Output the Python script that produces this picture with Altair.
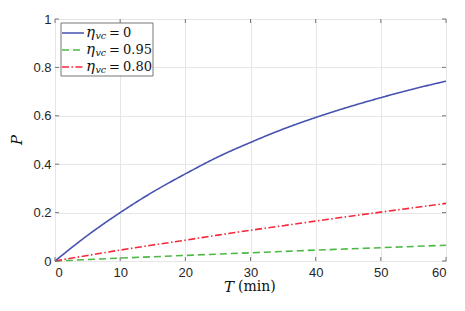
import altair as alt
import pandas as pd

T = [0, 5, 10, 15, 20, 25, 30, 35, 40, 45, 50, 55, 60]
P_eta0 = [0, 0.106, 0.200, 0.285, 0.360, 0.430, 0.490, 0.545, 0.593, 0.636, 0.675, 0.711, 0.743]
P_eta095 = [0, 0.006, 0.012, 0.0175, 0.023, 0.0285, 0.034, 0.0395, 0.045, 0.050, 0.055, 0.060, 0.065]
P_eta080 = [0, 0.023, 0.045, 0.066, 0.086, 0.107, 0.127, 0.146, 0.165, 0.184, 0.202, 0.220, 0.238]

series_names = ["eta0", "eta095", "eta080"]
series_colors = ["#4652b0", "#4cb944", "#f5283a"]
series_dash = [[1, 0], [7, 4], [7, 2.5, 1.5, 2.5]]
legend_values = ["0", "0.95", "0.80"]

x_ticks = [0, 10, 20, 30, 40, 50, 60]
y_ticks = [0, 0.2, 0.4, 0.6, 0.8, 1]

W, H = 391, 242
SERIF = "DejaVu Serif"
SANS = "Liberation Sans"

rows = []
for name, vals in zip(series_names, [P_eta0, P_eta095, P_eta080]):
    for t, p in zip(T, vals):
        rows.append({"T": t, "P": p, "series": name})
df = pd.DataFrame(rows)

xscale = alt.Scale(domain=[0, 60], nice=False)
yscale = alt.Scale(domain=[0, 1], nice=False)

lines = alt.Chart(df).mark_line(strokeWidth=1.6, interpolate="monotone").encode(
    x=alt.X("T:Q", scale=xscale,
            axis=alt.Axis(values=x_ticks, title=None, ticks=False, domain=False,
                          grid=True, gridColor="#e6e6e6", labelFont=SANS,
                          labelFontSize=13, labelColor="#262626", labelPadding=5)),
    y=alt.Y("P:Q", scale=yscale,
            axis=alt.Axis(values=y_ticks, format="~g", title=None, ticks=False, domain=False,
                          grid=True, gridColor="#e6e6e6", labelFont=SANS,
                          labelFontSize=13, labelColor="#262626", labelPadding=4)),
    color=alt.Color("series:N", scale=alt.Scale(domain=series_names, range=series_colors), legend=None),
    strokeDash=alt.StrokeDash("series:N", scale=alt.Scale(domain=series_names, range=series_dash), legend=None),
    detail="series:N",
)

xt = pd.DataFrame({"v": x_ticks})
yt = pd.DataFrame({"v": y_ticks})
tick_color = "#777777"
xb = alt.Chart(xt).mark_rule(color=tick_color).encode(
    x=alt.X("v:Q", scale=xscale), y=alt.value(H), y2=alt.value(H - 4))
xtop = alt.Chart(xt).mark_rule(color=tick_color).encode(
    x=alt.X("v:Q", scale=xscale), y=alt.value(0), y2=alt.value(4))
yl = alt.Chart(yt).mark_rule(color=tick_color).encode(
    y=alt.Y("v:Q", scale=yscale), x=alt.value(0), x2=alt.value(4))
yr = alt.Chart(yt).mark_rule(color=tick_color).encode(
    y=alt.Y("v:Q", scale=yscale), x=alt.value(W), x2=alt.value(W - 4))

one = pd.DataFrame({"a": [0]})
layers = [lines, xb, xtop, yl, yr]

# Legend box
layers.append(alt.Chart(one).mark_rect(fill="white", stroke="#777777", strokeWidth=1).encode(
    x=alt.value(6), x2=alt.value(98), y=alt.value(4), y2=alt.value(57)))
row_y = [14, 31, 48]
for i in range(3):
    yy = row_y[i]
    layers.append(alt.Chart(one).mark_rule(color=series_colors[i], strokeWidth=1.6,
                                           strokeDash=series_dash[i]).encode(
        x=alt.value(7), x2=alt.value(29), y=alt.value(yy)))
    layers.append(alt.Chart(one).mark_text(font=SERIF, fontStyle="italic", fontSize=15,
                                           align="left", baseline="middle", color="#111").encode(
        x=alt.value(31), y=alt.value(yy - 1), text=alt.value("η")))
    layers.append(alt.Chart(one).mark_text(font=SERIF, fontStyle="italic", fontSize=9.5,
                                           align="left", baseline="middle", color="#111").encode(
        x=alt.value(40.5), y=alt.value(yy + 3), text=alt.value("vc")))
    layers.append(alt.Chart(one).mark_text(font=SERIF, fontSize=13,
                                           align="left", baseline="middle", color="#111").encode(
        x=alt.value(54), y=alt.value(yy), text=alt.value("=")))
    layers.append(alt.Chart(one).mark_text(font=SERIF, fontSize=13,
                                           align="left", baseline="middle", color="#111").encode(
        x=alt.value(68), y=alt.value(yy), text=alt.value(legend_values[i])))

# Axis titles
layers.append(alt.Chart(one).mark_text(font=SERIF, fontStyle="italic", fontSize=15,
                                       align="center", baseline="middle", color="#111", angle=270).encode(
    x=alt.value(-38), y=alt.value(121), text=alt.value("P")))
layers.append(alt.Chart(one).mark_text(font=SERIF, fontStyle="italic", fontSize=15,
                                       align="right", baseline="middle", color="#111").encode(
    x=alt.value(179), y=alt.value(268), text=alt.value("T")))
layers.append(alt.Chart(one).mark_text(font=SERIF, fontSize=14,
                                       align="left", baseline="middle", color="#111").encode(
    x=alt.value(183), y=alt.value(268), text=alt.value("(min)")))

chart = alt.layer(*layers).properties(
    width=W, height=H,
    autosize=alt.AutoSizeParams(type="none"),
    padding={"left": 47, "top": 11, "right": 10, "bottom": 42},
    background="white",
).configure_view(stroke="#777777", strokeWidth=1)

chart.save("out.html", embed_options={"renderer": "svg", "actions": False})
